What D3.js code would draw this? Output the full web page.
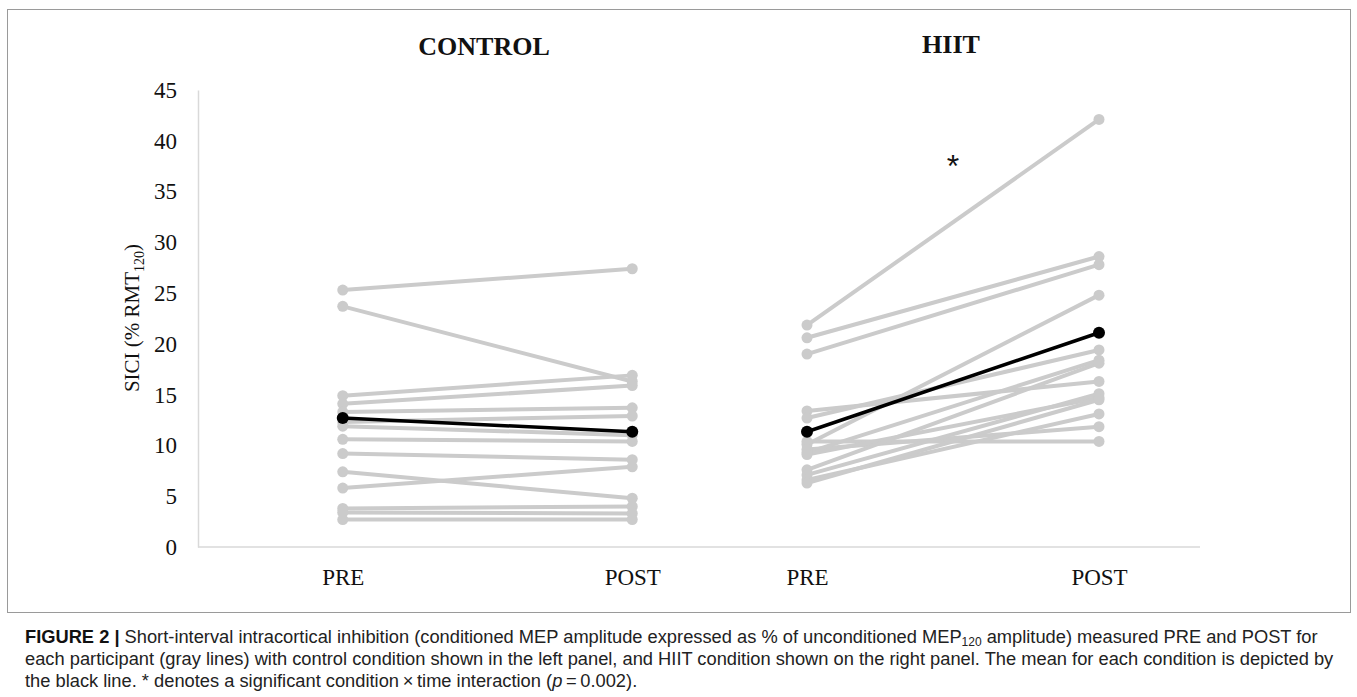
<!DOCTYPE html>
<html>
<head>
<meta charset="utf-8">
<script src="https://cdn.jsdelivr.net/npm/d3@7"></script>
<style>
  html, body { margin: 0; padding: 0; background: #fff; }
  svg { display: block; }
</style>
</head>
<body>
<svg id="chart" width="1357" height="697"></svg>
<script>
// ---- data ----
const panels = ["CONTROL", "HIIT"];
const timepoints = ["PRE", "POST"];
const controlPre  = [25.3, 23.7, 14.9, 14.1, 13.3, 12.3, 11.9, 10.6, 9.2, 7.4, 5.8, 3.8, 3.4, 2.7];
const controlPost = [27.4, 16.3, 16.9, 15.9, 13.7, 12.9, 11.0, 10.4, 8.6, 4.8, 7.9, 4.0, 3.3, 2.7];
const controlMean = [12.7, 11.35];
const hiitPre  = [21.85, 20.6, 19.0, 13.4, 12.7, 10.4, 10.1, 9.6, 9.3, 9.1, 7.6, 7.1, 6.6, 6.3];
const hiitPost = [42.1, 28.6, 27.8, 16.3, 19.4, 10.4, 24.8, 11.85, 18.4, 14.7, 18.1, 15.1, 13.1, 14.5];
const hiitMean = [11.35, 21.1];
const yTicks = [0, 5, 10, 15, 20, 25, 30, 35, 40, 45];

const svg = d3.select("#chart");
const serif = "'Liberation Serif', 'Times New Roman', serif";
const sans = "'Liberation Sans', Arial, sans-serif";

// frame
svg.append("rect").attr("x", 7.5).attr("y", 9.5).attr("width", 1343).attr("height", 603)
  .attr("fill", "none").attr("stroke", "#9a9a9a").attr("stroke-width", 1);

const y = d3.scaleLinear().domain([0, 45]).range([547, 90]);
const xControl = d3.scalePoint().domain(timepoints).range([198, 777]).padding(0.5);
const xHiit = d3.scalePoint().domain(timepoints).range([661, 1245]).padding(0.5);

// y axis
const yAxis = svg.append("g").attr("transform", "translate(198,0)")
  .call(d3.axisLeft(y).tickValues(yTicks).tickSize(0).tickPadding(21).tickFormat(d3.format("d")));
yAxis.select(".domain").attr("stroke", "#d9d9d9").attr("stroke-width", 1.5);
yAxis.selectAll("text").attr("font-family", serif).attr("font-size", 23).attr("fill", "#111");

// x axis baseline
svg.append("line").attr("x1", 198).attr("x2", 1200).attr("y1", y(0)).attr("y2", y(0))
  .attr("stroke", "#d9d9d9").attr("stroke-width", 1.5);

// x labels
[xControl, xHiit].forEach(x => {
  const g = svg.append("g").attr("transform", `translate(0,${y(0)})`)
    .call(d3.axisBottom(x).tickSize(0).tickPadding(22));
  g.select(".domain").remove();
  g.selectAll("text").attr("font-family", serif).attr("font-size", 23).attr("fill", "#111");
});

// y label
const yl = svg.append("text")
  .attr("transform", "translate(139,318) rotate(-90)")
  .attr("text-anchor", "middle")
  .attr("font-family", serif).attr("font-size", 21).attr("fill", "#111");
yl.append("tspan").text("SICI (% RMT");
yl.append("tspan").attr("font-size", 14).attr("dy", 5).text("120");
yl.append("tspan").attr("dy", -5).text(")");

// panel titles
svg.append("text").attr("x", 484).attr("y", 55).attr("text-anchor", "middle")
  .attr("font-family", serif).attr("font-weight", "bold").attr("font-size", 26).attr("fill", "#111")
  .text(panels[0]);
svg.append("text").attr("x", 951).attr("y", 53).attr("text-anchor", "middle")
  .attr("font-family", serif).attr("font-weight", "bold").attr("font-size", 26).attr("fill", "#111")
  .text(panels[1]);

function drawPanel(x, pre, post, mean) {
  const g = svg.append("g");
  const pairs = pre.map((v, i) => [v, post[i]]);
  const line = d3.line().x((d, i) => x(timepoints[i])).y(d => y(d));
  g.selectAll("path.ind").data(pairs).join("path")
    .attr("d", d => line(d)).attr("fill", "none")
    .attr("stroke", "#cbcbcb").attr("stroke-width", 4);
  pairs.forEach(p => {
    g.selectAll(null).data(p).join("circle")
      .attr("cx", (d, i) => x(timepoints[i])).attr("cy", d => y(d))
      .attr("r", 5.5).attr("fill", "#cbcbcb");
  });
  g.append("path").attr("d", line(mean)).attr("fill", "none")
    .attr("stroke", "#000").attr("stroke-width", 3.5);
  g.selectAll("circle.mean").data(mean).join("circle").attr("class", "mean")
    .attr("cx", (d, i) => x(timepoints[i])).attr("cy", d => y(d))
    .attr("r", 6).attr("fill", "#000");
}
drawPanel(xControl, controlPre, controlPost, controlMean);
drawPanel(xHiit, hiitPre, hiitPost, hiitMean);

// significance star
svg.append("text").attr("x", 953).attr("y", 177).attr("text-anchor", "middle")
  .attr("font-family", sans).attr("font-size", 32).attr("fill", "#111").text("*");

// caption
const cap = svg.append("g").attr("font-family", sans).attr("font-size", 18.3).attr("fill", "#222");
const l1 = cap.append("text").attr("x", 25).attr("y", 643);
l1.append("tspan").attr("font-weight", "bold").attr("fill", "#111").text("FIGURE 2 | ");
l1.append("tspan").text("Short-interval intracortical inhibition (conditioned MEP amplitude expressed as % of unconditioned MEP");
l1.append("tspan").attr("font-size", 12).attr("dy", 3).text("120");
l1.append("tspan").attr("dy", -3).text(" amplitude) measured PRE and POST for");
cap.append("text").attr("x", 25).attr("y", 665)
  .text("each participant (gray lines) with control condition shown in the left panel, and HIIT condition shown on the right panel. The mean for each condition is depicted by");
const l3 = cap.append("text").attr("x", 25).attr("y", 687);
l3.append("tspan").text("the black line. * denotes a significant condition\u2009\u00d7\u2009time interaction (");
l3.append("tspan").attr("font-style", "italic").text("p");
l3.append("tspan").text("\u2009=\u20090.002).");
</script>
</body>
</html>
